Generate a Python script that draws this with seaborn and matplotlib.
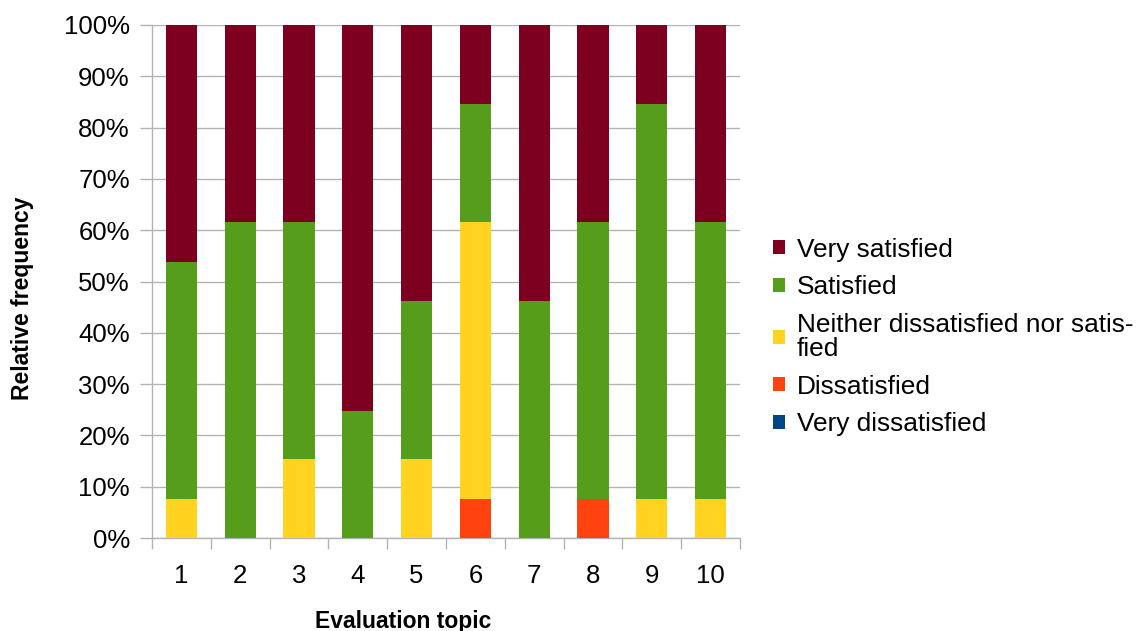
import matplotlib
matplotlib.use("Agg")
import matplotlib.pyplot as plt
import seaborn as sns
import pandas as pd
import numpy as np
from matplotlib.patches import Patch
from matplotlib.ticker import FixedLocator

topics = ["1", "2", "3", "4", "5", "6", "7", "8", "9", "10"]
very_dissatisfied = [0, 0, 0, 0, 0, 0, 0, 0, 0, 0]
dissatisfied = [0, 0, 0, 0, 0, 7.69, 0, 7.69, 0, 0]
neither = [7.69, 0, 15.38, 0, 15.38, 53.85, 0, 0, 7.69, 7.69]
satisfied = [46.15, 61.54, 46.15, 24.7, 30.77, 23.08, 46.15, 53.85, 76.92, 53.85]
very_satisfied = [46.16, 38.46, 38.47, 75.3, 53.85, 15.38, 53.85, 38.46, 15.39, 38.46]

series_names = ["Very dissatisfied", "Dissatisfied",
                "Neither dissatisfied nor satis-\nfied", "Satisfied", "Very satisfied"]
series_values = [very_dissatisfied, dissatisfied, neither, satisfied, very_satisfied]
colors = ["#004586", "#ff420e", "#ffd320", "#579d1c", "#7e0021"]

sns.set_theme(style="white")
plt.rcParams["font.family"] = ["Liberation Sans", "DejaVu Sans"]
plt.rcParams["text.color"] = "#000000"

fig = plt.figure(figsize=(11.36, 6.31), dpi=100)
ax = fig.add_axes([152/1136, 1 - 538/631, 588/1136, 513/631])

cum = np.cumsum(np.array(series_values), axis=0)
# draw from top of stack down so lower segments overlay
for i in range(len(series_values) - 1, -1, -1):
    df = pd.DataFrame({"topic": topics, "value": np.minimum(cum[i], 100)})
    sns.barplot(data=df, x="topic", y="value", order=topics, color=colors[i],
                saturation=1, width=0.53, ax=ax, linewidth=0, zorder=3)

ax.set_ylim(0, 100)
ax.set_xlim(-0.5, 9.5)
ax.set_yticks(range(0, 101, 10))
ax.set_yticklabels([f"{v}%" for v in range(0, 101, 10)])
ax.grid(axis="y", color="#b3b3b3", linewidth=1, zorder=0)
ax.set_axisbelow(True)

for s in ["top", "right"]:
    ax.spines[s].set_visible(False)
for s in ["left", "bottom"]:
    ax.spines[s].set_color("#b3b3b3")
    ax.spines[s].set_linewidth(1)

ax.tick_params(axis="y", which="major", length=9, color="#b3b3b3", width=1,
               direction="out", labelsize=18.5, pad=7, left=True, labelcolor="#000000")
ax.tick_params(axis="x", which="major", length=0, labelsize=18.5, pad=19, labelcolor="#000000")
ax.xaxis.set_minor_locator(FixedLocator(np.arange(-0.5, 10, 1)))
ax.tick_params(axis="x", which="minor", length=8, color="#b3b3b3", width=1,
               direction="out", bottom=True)

ax.set_xlabel("Evaluation topic", fontsize=16.5, fontweight="bold", color="#000000")
ax.set_ylabel("Relative frequency", fontsize=16.5, fontweight="bold", color="#000000")
ax.xaxis.label.set_va("center")
ax.xaxis.set_label_coords(0.427, -0.162)
ax.yaxis.label.set_va("center")
ax.yaxis.set_label_coords(-0.221, 0.468)

handles = [Patch(facecolor=colors[i], edgecolor="none") for i in range(4, -1, -1)]
labels = [series_names[i] for i in range(4, -1, -1)]
leg = fig.legend(handles, labels, loc="center left", bbox_to_anchor=(760/1136, 1 - 337/631),
                 frameon=False, fontsize=18.9, handlelength=0.45, handleheight=0.45,
                 handletextpad=0.45, labelspacing=0.52, borderpad=0,
                 labelcolor="#000000")
for t in leg.get_texts():
    t.set_linespacing(1.0)

fig.savefig("out.png", dpi=100)
